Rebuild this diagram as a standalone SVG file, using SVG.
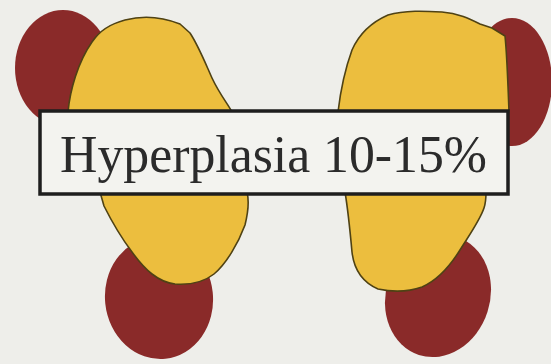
<svg xmlns="http://www.w3.org/2000/svg" width="551" height="364" viewBox="0 0 551 364">
  <style>
    .gland { fill: #8a2a29; }
    .lobe { fill: #ecbe3e; stroke: #4f4214; stroke-width: 1.6; stroke-linejoin: round; }
    .label-box { fill: #f3f3ef; stroke: #1e1e1e; stroke-width: 3.5; }
    .label-text { font-family: "Liberation Serif", "Times New Roman", serif; font-size: 52px; fill: #2b2b2b; }
  </style>

  <rect x="0" y="0" width="551" height="364" fill="#eeeeea"/>

  <!-- parathyroid glands (drawn behind the lobes) -->
  <g id="parathyroid-upper-left">
    <ellipse class="gland" cx="63" cy="68" rx="48" ry="58"/>
  </g>
  <g id="parathyroid-upper-right">
    <ellipse class="gland" cx="512" cy="82" rx="40" ry="64"/>
  </g>
  <g id="parathyroid-lower-left">
    <ellipse class="gland" cx="159" cy="298" rx="54" ry="61" transform="rotate(-6 159 298)"/>
  </g>
  <g id="parathyroid-lower-right">
    <ellipse class="gland" cx="438" cy="296" rx="52" ry="62" transform="rotate(18 438 296)"/>
  </g>

  <!-- thyroid lobes -->
  <g id="lobe-left">
    <path class="lobe" d="M68,112 C70,90 78,62 92,42 C100,30 110,24 125,20 C140,16 160,16 180,24 L190,33 C198,45 204,60 212,78 C220,95 228,104 232,112 Z"/>
    <path class="lobe" d="M100,192 L104,206 C112,222 120,236 132,252 C145,270 158,282 175,284 C190,285 204,282 214,274 C226,264 238,244 245,225 C248,213 249,200 247,192 Z"/>
  </g>
  <g id="lobe-right">
    <path class="lobe" d="M338,112 C340,95 344,72 352,50 C360,32 372,22 388,15 C405,10 425,11 442,12 C458,13 470,19 480,24 L492,28 L505,36 C507,55 508,85 509,112 Z"/>
    <path class="lobe" d="M345,192 C348,210 350,230 352,252 C354,270 362,282 378,289 C392,292 408,292 422,287 C438,280 450,266 460,250 C470,234 480,220 484,208 C486,202 486,196 486,192 Z"/>
  </g>

  <!-- caption -->
  <g id="label">
    <rect class="label-box" x="40" y="111" width="468" height="83"/>
    <text class="label-text" x="60" y="172" textLength="427" lengthAdjust="spacingAndGlyphs">Hyperplasia 10-15%</text>
  </g>
</svg>
